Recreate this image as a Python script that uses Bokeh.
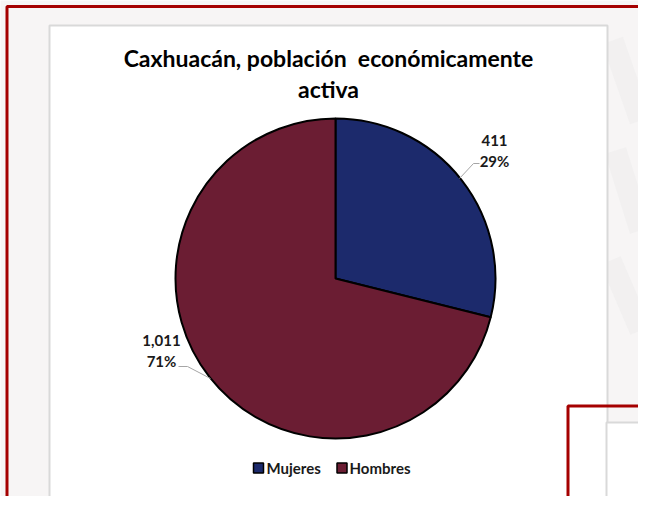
from bokeh.plotting import figure
from bokeh.models import Range1d, ColumnDataSource
from bokeh.core.properties import value
from bokeh.embed import file_html
from bokeh.resources import INLINE
import numpy as np

# ---- data ----
categorias = ["Mujeres", "Hombres"]
valores = [411, 1011]
colores = ["#1C2A6C", "#6B1D33"]
titulo = ["Caxhuacán, población\u00a0 económicamente", "activa"]

W, H = 638, 496
p = figure(width=W, height=H, output_backend="svg", toolbar_location=None,
           x_range=Range1d(0, W), y_range=Range1d(H, 0),
           min_border=0, background_fill_color="#F7F5F5",
           border_fill_color="#F7F5F5", outline_line_color=None)
p.axis.visible = False
p.grid.visible = False

FONT = value("Lato")

# faint background swirls at right
for (xs, ys) in [([612, 640], [40, 120]), ([615, 640], [150, 230]),
                 ([610, 640], [260, 330])]:
    p.line(xs, ys, line_color="#ECEAEA", line_width=22, line_alpha=0.45)

# red frame (partially visible)
p.line([6.5, 6.5, 700], [700, 6, 6], line_color="#A50000", line_width=3)

# chart area
p.quad(left=49, right=607, top=25, bottom=499, fill_color="white",
       line_color="#D9D9D9", line_width=2)

# second slide box bottom-right
p.quad(left=606, right=700, top=422, bottom=600, fill_color="white",
       line_color="#D9D9D9", line_width=2)
p.line([567.5, 567.5, 700], [600, 405.5, 405.5], line_color="#A50000", line_width=3)

# pie
vals = np.array(valores, dtype=float)
total = vals.sum()
frac = vals / total
cum = np.concatenate([[0], np.cumsum(frac)])
start = np.pi / 2 - 2 * np.pi * cum[:-1]
end = np.pi / 2 - 2 * np.pi * cum[1:]
src = ColumnDataSource(dict(cat=categorias, val=valores, color=colores,
                            start=start, end=end))
cx, cy, R = 335, 278, 160
p.wedge(x=cx, y=cy, radius=R, radius_units="screen", start_angle="start",
        end_angle="end", direction="clock", fill_color="color",
        line_color="black", line_width=2, source=src)

# title
p.text(x=[328, 328], y=[57, 88], text=titulo, text_font=FONT,
       text_font_style="bold", text_font_size="23px", text_align="center",
       text_baseline="middle", text_color="black")

# data labels
pct = [f"{round(f*100)}%" for f in frac]
num = [f"{v:,}" for v in valores]
lx = [494, 161]
ly1 = [140, 340]
ly2 = [160, 360]
p.text(x=lx, y=ly1, text=num, text_font=FONT, text_font_style="bold",
       text_font_size="15px", text_align="center", text_baseline="middle",
       text_color="#1A1A1A")
p.text(x=lx, y=ly2, text=pct, text_font=FONT, text_font_style="bold",
       text_font_size="15px", text_align="center", text_baseline="middle",
       text_color="#1A1A1A")
# leader lines
p.line([479, 473, 459], [163, 163, 178], line_color="#A6A6A6", line_width=1)
p.line([178, 187, 210], [366, 366, 378], line_color="#A6A6A6", line_width=1)

# legend
sq_x = [258, 341.5]
p.rect(x=sq_x, y=[467.5, 467.5], width=10, height=10, width_units="screen",
       height_units="screen", fill_color=colores, line_color="black", line_width=1.5)
p.text(x=[266, 349], y=[467.5, 467.5], text=categorias, text_font=FONT,
       text_font_style="bold", text_font_size="15px", text_align="left",
       text_baseline="middle", text_color="#1A1A1A")

open("out.html", "w").write(file_html(p, INLINE))
